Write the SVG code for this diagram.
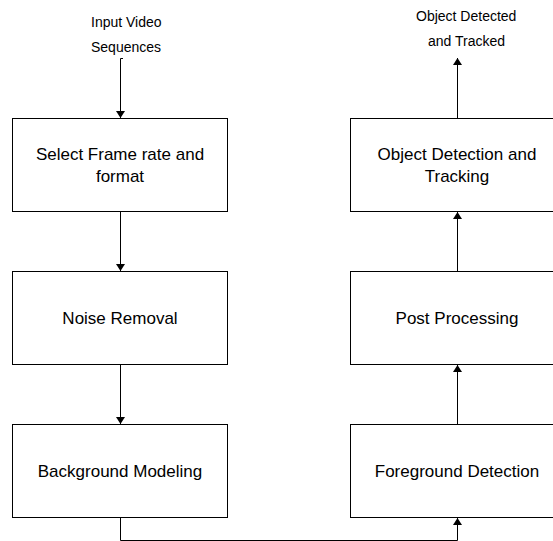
<svg xmlns="http://www.w3.org/2000/svg" width="553" height="541" viewBox="0 0 553 541">
<style>
.box{fill:#fff;stroke:#000;stroke-width:1}
.lbl{font-family:"Liberation Sans",Arial,sans-serif;font-size:17px;fill:#000;text-anchor:middle}
.io{font-family:"Liberation Sans",Arial,sans-serif;font-size:14px;fill:#000}
.con{fill:none;stroke:#000;stroke-width:1}
</style>
<defs>
<marker id="ah" markerUnits="userSpaceOnUse" markerWidth="7" markerHeight="10" refX="7" refY="5" orient="auto">
<path d="M0,0.5 L7,5 L0,9.5 Z" fill="#000"/>
</marker>
</defs>
<rect width="553" height="541" fill="#fff"/>
<g id="connectors">
<path class="con" d="M123,58.5 H120.5 V118" marker-end="url(#ah)"/>
<path class="con" d="M120.5,211.5 V271" marker-end="url(#ah)"/>
<path class="con" d="M120.5,364.5 V424" marker-end="url(#ah)"/>
<path class="con" d="M120.5,517.5 V540.5 H457.5 V518" marker-end="url(#ah)"/>
<path class="con" d="M457.5,424.5 V365" marker-end="url(#ah)"/>
<path class="con" d="M457.5,271.5 V212" marker-end="url(#ah)"/>
<path class="con" d="M457.5,118.5 V58" marker-end="url(#ah)"/>
</g>
<g id="input">
<text class="io" x="91" y="27">Input Video</text>
<text class="io" x="91" y="52">Sequences</text>
</g>
<g id="output">
<text class="io" x="416" y="21">Object Detected</text>
<text class="io" x="428" y="46">and Tracked</text>
</g>
<g id="select">
<rect class="box" x="12.5" y="118.5" width="215" height="93"/>
<text class="lbl" x="120" y="160">Select Frame rate and</text>
<text class="lbl" x="120" y="182">format</text>
</g>
<g id="noise">
<rect class="box" x="12.5" y="271.5" width="215" height="93"/>
<text class="lbl" x="120" y="324">Noise Removal</text>
</g>
<g id="background">
<rect class="box" x="12.5" y="424.5" width="215" height="93"/>
<text class="lbl" x="120" y="477">Background Modeling</text>
</g>
<g id="foreground">
<rect class="box" x="350.5" y="424.5" width="215" height="93"/>
<text class="lbl" x="457" y="477">Foreground Detection</text>
</g>
<g id="post">
<rect class="box" x="350.5" y="271.5" width="215" height="93"/>
<text class="lbl" x="457" y="324">Post Processing</text>
</g>
<g id="objdet">
<rect class="box" x="350.5" y="118.5" width="215" height="93"/>
<text class="lbl" x="457" y="160">Object Detection and</text>
<text class="lbl" x="457" y="182">Tracking</text>
</g>
</svg>
